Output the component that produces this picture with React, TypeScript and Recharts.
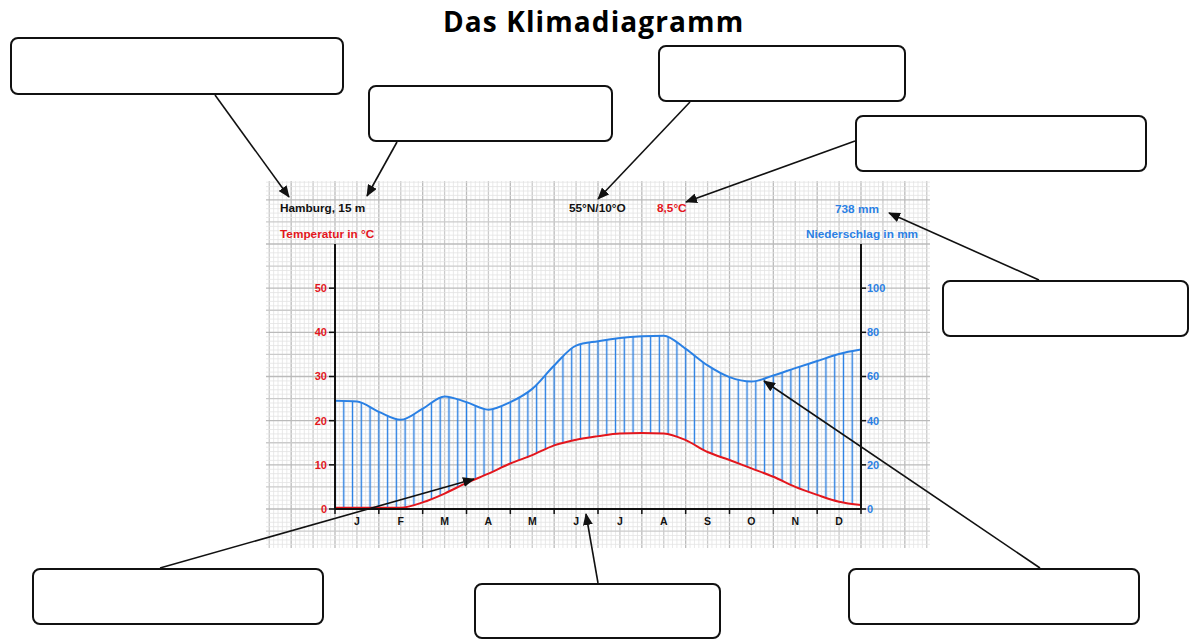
import React from "react";
import { ComposedChart, Area, Line, XAxis, YAxis } from "recharts";

// month positions (0 = start of January, 12 = end of December) at which values were read
const positions = [0, 0.5, 1, 1.5, 2, 2.5, 3, 3.5, 4, 4.5, 5, 5.5, 6, 6.5, 7, 7.5, 8, 8.5, 9, 9.5, 10, 10.5, 11, 11.5, 12];
// temperature in °C
const temperature = [0.3, 0.3, 0.3, 0.3, 1.5, 3.5, 5.9, 8, 10.3, 12.2, 14.4, 15.7, 16.5, 17.1, 17.2, 17.1, 15.6, 12.9, 11.1, 9.2, 7.3, 5, 3.2, 1.65, 0.9];
// precipitation in mm
const precipitation = [49, 48.7, 44, 40.4, 45.4, 51, 48.4, 45, 48.4, 54.4, 65, 74, 76, 77.4, 78.2, 78.5, 72.5, 65, 59.7, 57.7, 60.5, 63.8, 67, 70.2, 72.2];

const months = ["J", "F", "M", "A", "M", "J", "J", "A", "S", "O", "N", "D"];
const monthTicks = [0, 1, 2, 3, 4, 5, 6, 7, 8, 9, 10, 11, 12];
const tempTicks = [0, 10, 20, 30, 40, 50];
const precTicks = [0, 20, 40, 60, 80, 100];

const RED = "#e3161d";
const BLUE = "#2a80e4";

const data = positions.map((pos, i) => ({
  pos,
  temp: temperature[i],
  prec: precipitation[i],
  band: [temperature[i] * 2, precipitation[i]],
}));

// chart frame (plot area 335..861 x 244..509)
const W = 1191;
const H = 639;
const PL = 335, PR = 861, PT = 244, PB = 509;
const cellX = (PR - PL) / 12;
const cellY = (PB - PT) / 6;

function GraphPaper() {
  const lines: React.ReactNode[] = [];
  const x0 = 266, x1 = 930, y0 = 181, y1 = 548;
  const sx = cellX / 10, sy = cellY / 10;
  for (let k = Math.ceil((x0 - PL) / sx); PL + k * sx <= x1; k++) {
    const x = PL + k * sx;
    const c = k % 10 === 0 ? "#bbbbbb" : k % 5 === 0 ? "#cbcbcb" : "#e3e3e3";
    lines.push(<line key={"v" + k} x1={x} x2={x} y1={y0} y2={y1} stroke={c} strokeWidth={k % 5 === 0 ? 1.3 : 0.8} />);
  }
  for (let k = Math.ceil((PB - y1) / sy); PB - k * sy >= y0; k++) {
    const y = PB - k * sy;
    const c = k % 10 === 0 ? "#bbbbbb" : k % 5 === 0 ? "#cbcbcb" : "#e3e3e3";
    lines.push(<line key={"h" + k} x1={x0} x2={x1} y1={y} y2={y} stroke={c} strokeWidth={k % 5 === 0 ? 1.3 : 0.8} />);
  }
  return (
    <svg width={W} height={H} style={{ position: "absolute", left: 0, top: 0 }}>
      {lines}
    </svg>
  );
}

const MonthTick = (props: any) => {
  const { x, y, payload } = props;
  if (payload.value >= 12) return <g />;
  return (
    <text x={x + cellX / 2} y={y} dy="0.71em" textAnchor="middle" fontSize={10.5} fontWeight={700} fill="#111">
      {months[payload.value]}
    </text>
  );
};

const boxes = [
  { x: 10, y: 37, w: 334, h: 58 },
  { x: 368, y: 85, w: 245, h: 57 },
  { x: 658, y: 45, w: 248, h: 57 },
  { x: 855, y: 115, w: 292, h: 57 },
  { x: 942, y: 280, w: 247, h: 57 },
  { x: 32, y: 568, w: 292, h: 57 },
  { x: 474, y: 583, w: 247, h: 56 },
  { x: 848, y: 568, w: 292, h: 57 },
];

const arrows = [
  [215, 95, 289, 197],
  [397, 142, 367, 196],
  [690, 102, 598, 199],
  [855, 141, 686, 202],
  [1039, 280, 889, 213],
  [160, 568, 474, 479],
  [598, 583, 586, 514],
  [1040, 568, 764, 381],
];

const labelStyle: React.CSSProperties = {
  position: "absolute",
  fontFamily: "'Liberation Sans', Arial, sans-serif",
  fontWeight: 700,
  fontSize: 11.8,
  lineHeight: "14px",
  whiteSpace: "nowrap",
};

export default function App() {
  return (
    <div style={{ position: "absolute", left: 0, top: 0, width: W, height: H, background: "#fff", overflow: "hidden", fontFamily: "'Liberation Sans', Arial, sans-serif" }}>
      <div style={{ position: "absolute", left: 443, top: 0, width: 320, height: 42, whiteSpace: "nowrap", fontFamily: "'Open Sans', sans-serif", fontWeight: 700, fontSize: 28, lineHeight: "42px", letterSpacing: 1.1, color: "#000" }}>
        Das Klimadiagramm
      </div>

      <GraphPaper />

      <div style={{ position: "absolute", left: 0, top: 0 }}>
        <ComposedChart width={W} height={H} data={data} margin={{ top: PT, right: W - PR - 40, bottom: H - PB - 30, left: PL - 40 }}>
          <defs>
            <pattern id="hatch" patternUnits="userSpaceOnUse" x={PL - cellX / 10} y={0} width={cellX / 5} height={10}>
              <line x1={cellX / 10} x2={cellX / 10} y1={0} y2={10} stroke={BLUE} strokeWidth={1.4} />
            </pattern>
          </defs>
          <XAxis
            xAxisId="m"
            dataKey="pos"
            type="number"
            domain={[0, 12]}
            ticks={monthTicks}
            interval={0}
            height={30}
            axisLine={{ stroke: "#111", strokeWidth: 2 }}
            tickLine={{ stroke: "#111", strokeWidth: 1.5 }}
            tickSize={5}
            tickMargin={4}
            tick={<MonthTick />}
          />
          <YAxis
            yAxisId="t"
            orientation="left"
            domain={[0, 60]}
            ticks={tempTicks}
            width={40}
            axisLine={{ stroke: "#111", strokeWidth: 2 }}
            tickLine={{ stroke: "#111", strokeWidth: 1.5 }}
            tickSize={6}
            tickMargin={2}
            tick={{ fill: RED, fontSize: 11, fontWeight: 700 }}
          />
          <YAxis
            yAxisId="p"
            orientation="right"
            domain={[0, 120]}
            ticks={precTicks}
            width={40}
            axisLine={{ stroke: "#111", strokeWidth: 2 }}
            tickLine={{ stroke: "#111", strokeWidth: 1.5 }}
            tickSize={5}
            tickMargin={1}
            tick={{ fill: BLUE, fontSize: 11, fontWeight: 700 }}
          />
          <Area xAxisId="m" yAxisId="p" type="monotone" dataKey="band" stroke="none" fill="url(#hatch)" fillOpacity={1} isAnimationActive={false} />
          <Line xAxisId="m" yAxisId="p" type="monotone" dataKey="prec" stroke={BLUE} strokeWidth={2} dot={false} isAnimationActive={false} />
          <Line xAxisId="m" yAxisId="t" type="monotone" dataKey="temp" stroke={RED} strokeWidth={2} dot={false} isAnimationActive={false} />
        </ComposedChart>
      </div>

      <div style={{ ...labelStyle, left: 280, top: 201, color: "#111" }}>Hamburg, 15 m</div>
      <div style={{ ...labelStyle, left: 569, top: 201, color: "#111" }}>55°N/10°O</div>
      <div style={{ ...labelStyle, left: 657, top: 201, color: RED }}>8,5°C</div>
      <div style={{ ...labelStyle, left: 835, top: 202, color: BLUE }}>738 mm</div>
      <div style={{ ...labelStyle, left: 280, top: 227, color: RED }}>Temperatur in °C</div>
      <div style={{ ...labelStyle, left: 806, top: 227, color: BLUE }}>Niederschlag in mm</div>

      {boxes.map((b, i) => (
        <div key={i} style={{ position: "absolute", left: b.x, top: b.y, width: b.w - 4, height: b.h - 4, border: "2px solid #111", borderRadius: 8, background: "#fff" }} />
      ))}

      <svg width={W} height={H} style={{ position: "absolute", left: 0, top: 0, pointerEvents: "none" }}>
        <defs>
          <marker id="arrowHead" markerUnits="userSpaceOnUse" markerWidth={12} markerHeight={10} refX={11} refY={5} orient="auto">
            <path d="M0,0 L12,5 L0,10 Z" fill="#111" />
          </marker>
        </defs>
        {arrows.map(([x1, y1, x2, y2], i) => (
          <line key={i} x1={x1} y1={y1} x2={x2} y2={y2} stroke="#111" strokeWidth={1.6} markerEnd="url(#arrowHead)" />
        ))}
      </svg>
    </div>
  );
}
